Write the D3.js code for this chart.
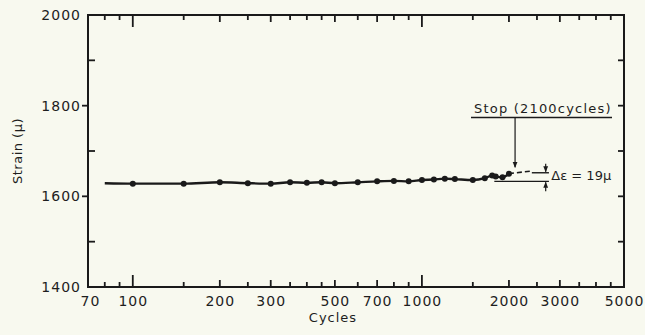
<!DOCTYPE html>
<html>
<head>
<meta charset="utf-8">
<script src="https://cdn.jsdelivr.net/npm/d3@7"></script>
<style>
  html, body { margin: 0; padding: 0; background: #f8f9ef; }
  svg { display: block; }
  text { font-family: "DejaVu Sans", sans-serif; fill: #1e1e1e; }
</style>
</head>
<body>
<svg id="chart" width="645" height="335"></svg>
<script>
// strain readings (micro-strain) against load cycles
const cycles = [100, 150, 200, 250, 300, 350, 400, 450, 500, 600, 700, 800, 900, 1000,
  1100, 1200, 1300, 1500, 1650, 1750, 1800, 1900, 2000];
const strain = [1628, 1628, 1631, 1629, 1628, 1631, 1630, 1631, 1629, 1631, 1633, 1634, 1633, 1636,
  1637, 1639, 1638, 1636, 1640, 1646, 1644, 1642, 1650];

// fitted line starts before the first reading
const fitStart = { cycles: 80, strain: 1629 };

// extrapolation after stop, and the delta-strain bracket
const extrapCycles = [2000, 2400];
const extrapStrain = [1650, 1656];
const deltaUpper = 1652;
const deltaLower = 1633;
const stopCycles = 2100;

const xTickLabels = [70, 100, 200, 300, 500, 700, 1000, 2000, 3000, 5000];
const xTickMarks = [80, 90, 100, 150, 200, 250, 300, 350, 400, 450, 500, 600, 700, 800, 900,
  1000, 1500, 2000, 2500, 3000, 3500, 4000, 4500];
const yTickLabels = [1400, 1600, 1800, 2000];
const yMajorTicks = [1600, 1800];
const yMinorTicks = [1500, 1700, 1900];
const yRightTicks = [1500, 1600, 1700, 1800, 1900];

const svg = d3.select('#chart');
const m = { left: 88, right: 624, top: 15, bottom: 287 };

const x = d3.scaleLog().domain([70, 5000]).range([m.left, m.right]);
const y = d3.scaleLinear().domain([1400, 2000]).range([m.bottom, m.top]);

const ink = '#1a1a1a';

// tick length by value
const tickLen = v => (v === 100 || v === 1000) ? 12 : ([200, 300, 500, 700, 2000, 3000].includes(v) ? 7 : 5);

const tickG = svg.append('g');

function addTicks(cls, values, x1, x2, y1, y2) {
  tickG.selectAll('line.' + cls)
    .data(values)
    .enter().append('line')
    .attr('class', cls)
    .attr('x1', x1).attr('x2', x2)
    .attr('y1', y1).attr('y2', y2)
    .attr('stroke', ink)
    .attr('stroke-width', 1.8);
}

// bottom and top ticks point into the plot
addTicks('xb', xTickMarks, d => x(d), d => x(d), y(1400), d => y(1400) - tickLen(d));
addTicks('xt', xTickMarks, d => x(d), d => x(d), y(2000), d => y(2000) + tickLen(d));
// left axis: labelled ticks outward, minor ticks inward
addTicks('yl', yMajorTicks, x(70) - 6, x(70), d => y(d), d => y(d));
addTicks('ym', yMinorTicks, x(70), x(70) + 7, d => y(d), d => y(d));
// right axis ticks inward
addTicks('yr', yRightTicks, x(5000) - 6, x(5000), d => y(d), d => y(d));

// frame
svg.append('rect')
  .attr('x', x(70)).attr('y', y(2000))
  .attr('width', x(5000) - x(70))
  .attr('height', y(1400) - y(2000))
  .attr('fill', 'none')
  .attr('stroke', ink)
  .attr('stroke-width', 2);

// bottom labels
const xLabels = svg.append('g')
  .attr('transform', `translate(0,${m.bottom})`)
  .call(d3.axisBottom(x).tickValues(xTickLabels).tickFormat(d3.format('d')).tickSize(0).tickPadding(9));
xLabels.select('.domain').remove();
xLabels.selectAll('text')
  .style('font-size', '14px')
  .style('letter-spacing', '1px')
  .attr('dx', d => d === 70 ? 2 : 0);

// left labels
const yLabels = svg.append('g')
  .attr('transform', `translate(${m.left},0)`)
  .call(d3.axisLeft(y).tickValues(yTickLabels).tickFormat(d3.format('d')).tickSize(0).tickPadding(7));
yLabels.select('.domain').remove();
yLabels.selectAll('text')
  .style('font-size', '14px')
  .style('letter-spacing', '1px');

// axis titles
svg.append('text')
  .attr('x', 333)
  .attr('y', 322)
  .attr('text-anchor', 'middle')
  .style('font-size', '13px')
  .style('letter-spacing', '1px')
  .text('Cycles');

svg.append('text')
  .attr('transform', 'translate(22,151) rotate(-90)')
  .attr('text-anchor', 'middle')
  .style('font-size', '13px')
  .style('letter-spacing', '0.5px')
  .text('Strain (μ)');

// fitted curve and readings
const pts = cycles.map((c, i) => ({ cycles: c, strain: strain[i] }));
const line = d3.line()
  .x(d => x(d.cycles))
  .y(d => y(d.strain))
  .curve(d3.curveMonotoneX);

svg.append('path')
  .datum([fitStart, ...pts])
  .attr('d', line)
  .attr('fill', 'none')
  .attr('stroke', ink)
  .attr('stroke-width', 2.4);

svg.selectAll('circle.pt')
  .data(pts)
  .enter()
  .append('circle')
  .attr('class', 'pt')
  .attr('cx', d => x(d.cycles))
  .attr('cy', d => y(d.strain))
  .attr('r', 3)
  .attr('fill', ink);

// dashed extrapolation
svg.append('line')
  .attr('x1', x(extrapCycles[0])).attr('y1', y(extrapStrain[0]))
  .attr('x2', x(extrapCycles[1])).attr('y2', y(extrapStrain[1]))
  .attr('stroke', ink).attr('stroke-width', 1.6)
  .attr('stroke-dasharray', '5,3');

// delta bracket lines
svg.append('line')
  .attr('x1', x(2400)).attr('x2', x(2750))
  .attr('y1', y(deltaUpper)).attr('y2', y(deltaUpper))
  .attr('stroke', ink).attr('stroke-width', 1.4);
svg.append('line')
  .attr('x1', x(1780)).attr('x2', x(2750))
  .attr('y1', y(deltaLower)).attr('y2', y(deltaLower))
  .attr('stroke', ink).attr('stroke-width', 1.4);

const defs = svg.append('defs');
defs.append('marker')
  .attr('id', 'arrow')
  .attr('viewBox', '0 0 10 10')
  .attr('refX', 9).attr('refY', 5)
  .attr('markerWidth', 5).attr('markerHeight', 5)
  .attr('orient', 'auto')
  .append('path')
  .attr('d', 'M0,1 L10,5 L0,9 Z')
  .attr('fill', ink);

const ax = x(2680);
svg.append('line')
  .attr('x1', ax).attr('x2', ax)
  .attr('y1', y(deltaUpper) - 9).attr('y2', y(deltaUpper) - 1)
  .attr('stroke', ink).attr('stroke-width', 1.2)
  .attr('marker-end', 'url(#arrow)');
svg.append('line')
  .attr('x1', ax).attr('x2', ax)
  .attr('y1', y(deltaLower) + 10).attr('y2', y(deltaLower) + 1)
  .attr('stroke', ink).attr('stroke-width', 1.2)
  .attr('marker-end', 'url(#arrow)');

svg.append('text')
  .attr('x', x(2780) + 1)
  .attr('y', y(deltaLower) - 1)
  .style('font-size', '13px')
  .text('Δε = 19μ');

// stop annotation
svg.append('text')
  .attr('x', 474)
  .attr('y', 113)
  .style('font-size', '13px')
  .style('letter-spacing', '1.2px')
  .text('Stop (2100cycles)');
svg.append('line')
  .attr('x1', 471).attr('x2', 612)
  .attr('y1', 117.5).attr('y2', 117.5)
  .attr('stroke', ink).attr('stroke-width', 1.3);
svg.append('line')
  .attr('x1', x(stopCycles)).attr('x2', x(stopCycles))
  .attr('y1', 117.5).attr('y2', y(1664))
  .attr('stroke', ink).attr('stroke-width', 1.2)
  .attr('marker-end', 'url(#arrow)');
</script>
</body>
</html>
